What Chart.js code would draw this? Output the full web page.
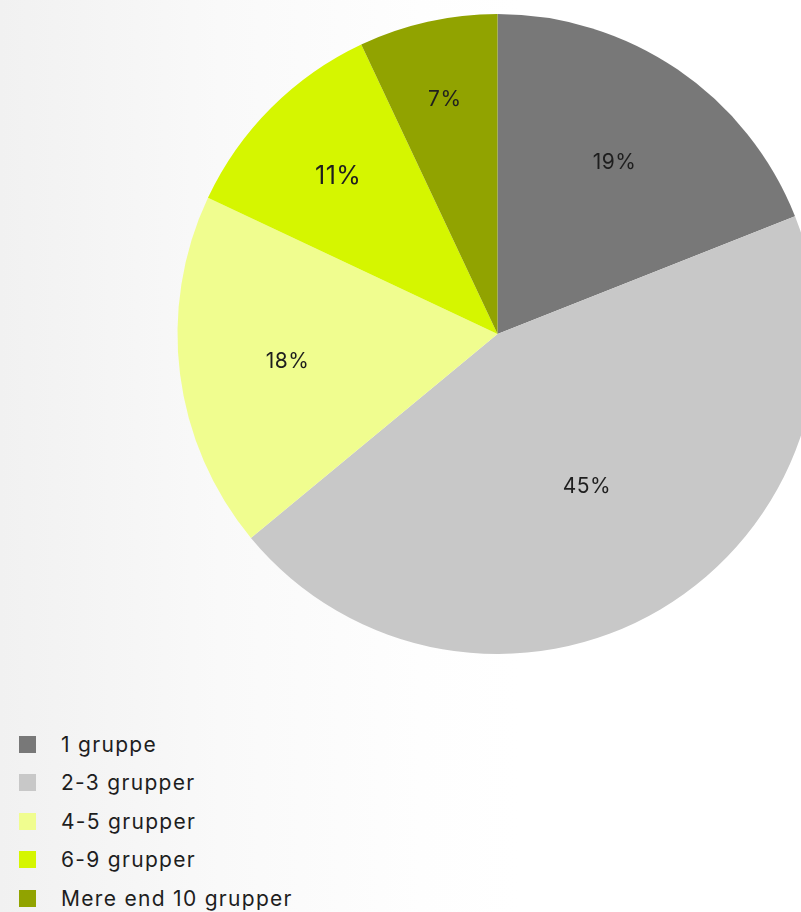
<!DOCTYPE html>
<html lang="da">
<head>
<meta charset="utf-8">
<title>Antal grupper</title>
<script src="https://cdn.jsdelivr.net/npm/chart.js@4/dist/chart.umd.min.js"></script>
<style>
  html, body {
    margin: 0;
    width: 801px;
    height: 912px;
    overflow: hidden;
  }
  body {
    position: relative;
    background: linear-gradient(to right, #f1f1f1 0px, #f9f9f9 220px, #fefefe 420px, #ffffff 520px);
    font-family: Inter, "Noto Sans", sans-serif;
    color: #1e1e1e;
  }
  #pieWrap {
    position: absolute;
    left: 0;
    top: 0;
    width: 995px;
    height: 668px;
  }
  #legend {
    position: absolute;
    left: 19px;
    top: 725px;
    margin: 0;
    padding: 0;
    list-style: none;
  }
  #legend li {
    display: flex;
    align-items: center;
    height: 38.5px;
    font-size: 21px;
    letter-spacing: 1.3px;
    cursor: pointer;
  }
  #legend li span.box {
    display: inline-block;
    width: 17px;
    height: 17px;
    margin-right: 25px;
  }
</style>
</head>
<body>
<div id="pieWrap"><canvas id="pie"></canvas></div>
<ul id="legend"></ul>

<script>
  // categories and shares (percent)
  const groups = ["1 gruppe", "2-3 grupper", "4-5 grupper", "6-9 grupper", "Mere end 10 grupper"]
  const shares = [19, 45, 18, 11, 7]
  const colors = ["#787878", "#c8c8c8", "#f0fd8f", "#d5f600", "#91a300"]

  // percent labels inside the slices
  const sliceLabels = {
    id: "sliceLabels",
    afterDatasetsDraw(chart, args, opts) {
      const ctx = chart.ctx
      const meta = chart.getDatasetMeta(0)
      ctx.save()
      ctx.textAlign = "center"
      ctx.textBaseline = "alphabetic"
      ctx.fillStyle = opts.color
      meta.data.forEach((arc, i) => {
        const { x, y, startAngle, endAngle, outerRadius } = arc.getProps(
          ["x", "y", "startAngle", "endAngle", "outerRadius"], true)
        const mid = (startAngle + endAngle) / 2
        const r = outerRadius * opts.offsets[i]
        const size = opts.sizes[i]
        ctx.font = size + "px Inter"
        ctx.letterSpacing = "0.5px"
        // centre the digits vertically on the label point
        const capHalf = size * 0.727 / 2
        ctx.fillText(chart.data.datasets[0].data[i] + "%", x + Math.cos(mid) * r, y + Math.sin(mid) * r + capHalf)
      })
      ctx.restore()
    },
  }

  // legend as an html list, built from the chart's own legend items
  const htmlLegend = {
    id: "htmlLegend",
    afterUpdate(chart) {
      const ul = document.getElementById("legend")
      ul.innerHTML = ""
      const items = chart.options.plugins.legend.labels.generateLabels(chart)
      items.forEach((item) => {
        const li = document.createElement("li")
        const box = document.createElement("span")
        box.className = "box"
        box.style.background = item.fillStyle
        li.appendChild(box)
        li.appendChild(document.createTextNode(item.text))
        li.onclick = () => {
          chart.toggleDataVisibility(item.index)
          chart.update()
        }
        ul.appendChild(li)
      })
    },
  }

  const ctx = document.getElementById("pie").getContext("2d")
  const pieChart = new Chart(ctx, {
    type: "pie",
    data: {
      labels: groups,
      datasets: [
        {
          data: shares,
          backgroundColor: colors,
          borderWidth: 0,
        },
      ],
    },
    options: {
      responsive: true,
      maintainAspectRatio: false,
      animation: false,
      radius: 320,
      layout: { padding: 0 },
      plugins: {
        legend: { display: false },
        tooltip: { enabled: true },
        sliceLabels: {
          color: "#1e1e1e",
          offsets: [0.651, 0.549, 0.661, 0.704, 0.754],
          sizes: [21, 21, 21, 25, 21],
        },
      },
    },
    plugins: [sliceLabels, htmlLegend],
  })
</script>
</body>
</html>
